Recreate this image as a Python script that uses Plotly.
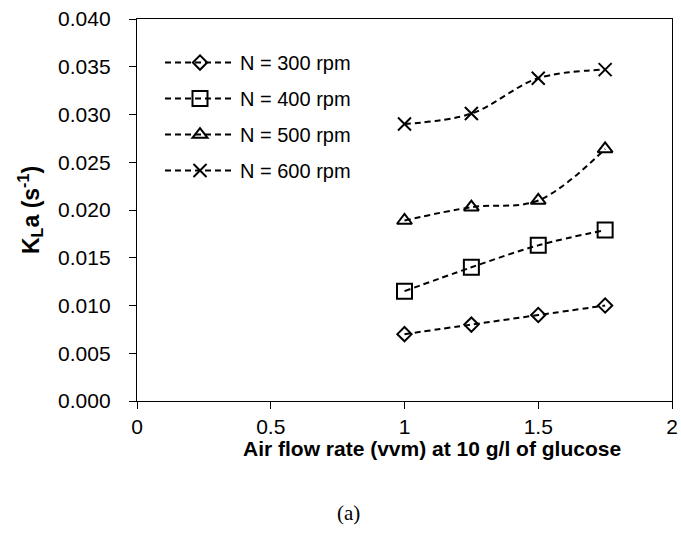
import plotly.graph_objects as go

air_flow = [1.0, 1.25, 1.5, 1.75]
kla_300 = [0.0070, 0.0080, 0.0090, 0.0100]
kla_400 = [0.0115, 0.0140, 0.0163, 0.0179]
kla_500 = [0.0189, 0.0203, 0.0210, 0.0264]
kla_600 = [0.0290, 0.0301, 0.0338, 0.0347]
series_names = ["N = 300 rpm", "N = 400 rpm", "N = 500 rpm", "N = 600 rpm"]
x_ticks = [0, 0.5, 1, 1.5, 2]
x_tick_labels = ["0", "0.5", "1", "1.5", "2"]
y_ticks = [0.000, 0.005, 0.010, 0.015, 0.020, 0.025, 0.030, 0.035, 0.040]
y_tick_labels = ["0.000", "0.005", "0.010", "0.015", "0.020", "0.025", "0.030", "0.035", "0.040"]

series = [kla_300, kla_400, kla_500, kla_600]
symbols = ["diamond-open", "square-open", "triangle-up-open", "x-thin-open"]
sizes = [11, 15, 13, 13]

fig = go.Figure()
for i, (name, vals) in enumerate(zip(series_names, series)):
    fig.add_trace(go.Scatter(
        x=air_flow, y=vals, name=name, mode="lines+markers",
        legendgroup=str(i),
        line=dict(color="black", width=2, dash="6px,4px", shape="spline", smoothing=1),
        marker=dict(symbol=symbols[i], size=sizes[i], color="black",
                    line=dict(color="black", width=2)),
    ))

font_sans = "Liberation Sans, Arial"
axis_common = dict(
    showline=True, linecolor="black", linewidth=1.3, mirror=True,
    ticks="outside", ticklen=7, tickcolor="black", tickwidth=1,
    showgrid=False, zeroline=False, ticklabeloverflow="allow", automargin=False,
    tickfont=dict(family=font_sans, size=21, color="black"),
)

fig.update_layout(
    width=681, height=538,
    margin=dict(l=137, r=9, t=19, b=137, autoexpand=False),
    paper_bgcolor="white", plot_bgcolor="white",
    showlegend=True,
    legend=dict(x=0.043, y=0.937, xanchor="left", yanchor="top",
                bgcolor="rgba(0,0,0,0)", tracegroupgap=7,
                font=dict(family=font_sans, size=20, color="black"),
                itemwidth=70),
    xaxis=dict(range=[0, 2], tickvals=x_ticks, ticktext=x_tick_labels,
               ticklabelstandoff=0, **axis_common),
    yaxis=dict(range=[0, 0.040], tickvals=y_ticks, ticktext=y_tick_labels,
               ticklabelstandoff=14, **axis_common),
    annotations=[
        dict(text="<b>Air flow rate (vvm) at 10 g/l of glucose</b>", xref="paper", yref="paper",
             x=0.552, y=-0.124, xanchor="center", yanchor="middle", showarrow=False,
             font=dict(family=font_sans, size=21, color="black")),
        dict(text="<b>K<sub>L</sub>a (s<sup>-1</sup>)</b>", xref="paper", yref="paper",
             x=-0.2, y=0.5, xanchor="center", yanchor="middle", textangle=-90, showarrow=False,
             font=dict(family=font_sans, size=23, color="black")),
        dict(text="(a)", xref="paper", yref="paper",
             x=0.395, y=-0.293, xanchor="center", yanchor="middle", showarrow=False,
             font=dict(family="Liberation Serif, Times New Roman", size=21, color="black")),
    ],
)

fig.write_html("out.html", config={"displayModeBar": False},
               post_script="document.body.style.margin='0';document.body.style.overflow='hidden';")
